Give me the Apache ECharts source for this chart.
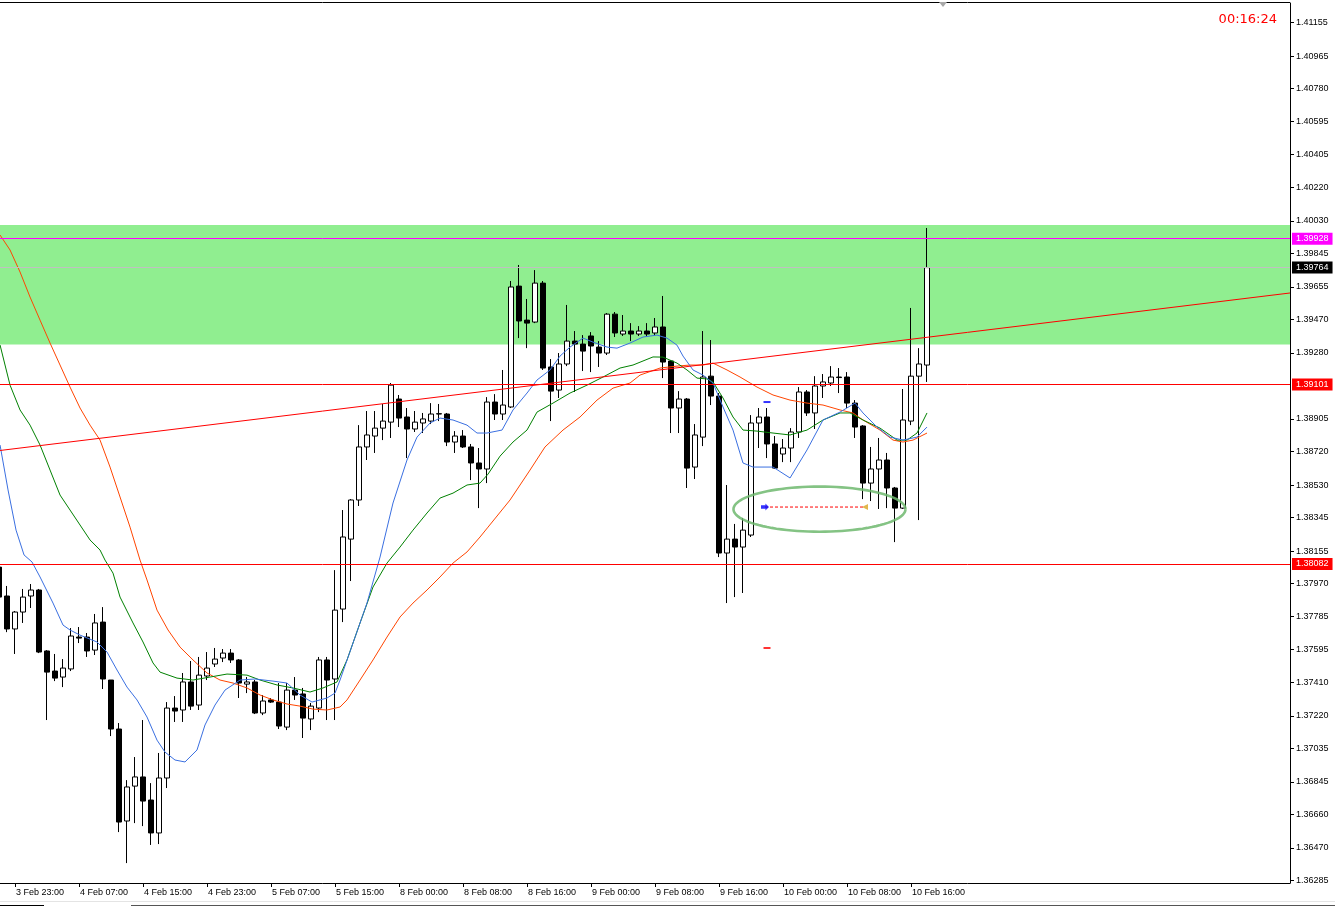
<!DOCTYPE html>
<html><head><meta charset="utf-8">
<script src="https://cdn.jsdelivr.net/npm/echarts/dist/echarts.min.js"></script>
<style>html,body{margin:0;padding:0;background:#fff}#c{width:1335px;height:907px}</style>
</head><body><div id="c"></div>
<script>
// ---------- data ----------
const priceTicks = [1.41155,1.40965,1.40780,1.40595,1.40405,1.40220,1.40030,1.39845,1.39655,1.39470,1.39280,1.38905,1.38720,1.38530,1.38345,1.38155,1.37970,1.37785,1.37595,1.37410,1.37220,1.37035,1.36845,1.36660,1.36470,1.36285];
const timeTickIdx = [2,10,18,26,34,42,50,58,66,74,82,90,98,106,114];
const timeTickLabels = ['3 Feb 23:00','4 Feb 07:00','4 Feb 15:00','4 Feb 23:00','5 Feb 07:00','5 Feb 15:00','8 Feb 00:00','8 Feb 08:00','8 Feb 16:00','9 Feb 00:00','9 Feb 08:00','9 Feb 16:00','10 Feb 00:00','10 Feb 08:00','10 Feb 16:00'];

const opens = [1.38064,1.37900,1.37713,1.37809,1.37900,1.37934,1.37588,1.37474,1.37440,1.37486,1.37667,1.37667,1.37593,1.37752,1.37423,1.37145,1.36623,1.36821,1.36873,1.36742,
1.36555,1.36867,1.37264,1.37253,1.37412,1.37281,1.37446,1.37514,1.37548,1.37576,1.37537,1.37400,1.37412,1.37236,1.37310,1.37298,1.37156,1.37366,1.37344,1.37202,
1.37264,1.37537,1.37429,1.37826,1.38223,1.38445,1.38746,1.38808,1.38853,1.38887,1.39018,1.38916,1.38848,1.38882,1.38893,1.38933,1.38933,1.38774,1.38808,1.38746,
1.38655,1.38621,1.39001,1.38933,1.38973,1.39659,1.39466,1.39455,1.39676,1.39200,1.39069,1.39217,1.39347,1.39330,1.39376,1.39313,1.39279,1.39500,1.39387,1.39404,
1.39387,1.39404,1.39393,1.39427,1.39234,1.38967,1.39018,1.38632,1.38802,1.39148,1.39035,1.38144,1.38223,1.38178,1.38246,1.38882,1.38916,1.38763,1.38706,1.38740,
1.38831,1.39058,1.38939,1.39092,1.39109,1.39143,1.39143,1.38995,1.38865,1.38541,1.38621,1.38672,1.38513,1.38399,1.38893,1.39148,1.39211];
const closes = [1.37894,1.37713,1.37809,1.37894,1.37934,1.37582,1.37468,1.37434,1.37491,1.37673,1.37661,1.37588,1.37747,1.37429,1.37145,1.36617,1.36816,1.36873,1.36736,1.36555,
1.36867,1.37264,1.37247,1.37412,1.37275,1.37451,1.37491,1.37542,1.37576,1.37537,1.37406,1.37412,1.37236,1.37304,1.37298,1.37162,1.37366,1.37338,1.37207,1.37275,
1.37537,1.37423,1.37820,1.38235,1.38445,1.38746,1.38814,1.38853,1.38893,1.39097,1.38910,1.38848,1.38887,1.38905,1.38933,1.38935,1.38774,1.38808,1.38746,1.38655,
1.38621,1.39001,1.38933,1.38984,1.39654,1.39461,1.39449,1.39676,1.39194,1.39063,1.39217,1.39347,1.39330,1.39290,1.39319,1.39279,1.39500,1.39393,1.39404,1.39387,
1.39404,1.39387,1.39427,1.39228,1.38967,1.39018,1.38626,1.38814,1.39143,1.39035,1.38144,1.38223,1.38178,1.38274,1.38882,1.38916,1.38763,1.38626,1.38740,1.38831,
1.39058,1.38939,1.39092,1.39115,1.39143,1.39140,1.38995,1.38859,1.38541,1.38621,1.38672,1.38513,1.38399,1.38899,1.39148,1.39217,1.39764];
const highs = [1.38076,1.37957,1.37815,1.37940,1.37968,1.37940,1.37593,1.37571,1.37542,1.37718,1.37724,1.37690,1.37798,1.37837,1.37423,1.37179,1.36855,1.36986,1.37196,1.36838,
1.37009,1.37298,1.37332,1.37463,1.37531,1.37554,1.37582,1.37605,1.37599,1.37599,1.37542,1.37440,1.37423,1.37338,1.37321,1.37406,1.37406,1.37440,1.37378,1.37293,
1.37554,1.37554,1.38047,1.38388,1.38450,1.38870,1.38950,1.38950,1.38990,1.39109,1.39041,1.38967,1.38950,1.38939,1.38995,1.38990,1.38939,1.38836,1.38842,1.38763,
1.38740,1.39029,1.39046,1.39183,1.39688,1.39779,1.39586,1.39750,1.39688,1.39245,1.39279,1.39552,1.39404,1.39381,1.39398,1.39347,1.39506,1.39512,1.39495,1.39449,
1.39432,1.39449,1.39478,1.39603,1.39239,1.39063,1.39024,1.38876,1.39404,1.39353,1.39052,1.38530,1.38309,1.38343,1.38927,1.38967,1.38967,1.38808,1.38791,1.38853,
1.39086,1.39069,1.39148,1.39160,1.39205,1.39194,1.39171,1.39012,1.38870,1.38746,1.38797,1.38712,1.38519,1.39075,1.39535,1.39307,1.39989];
const lows = [1.37877,1.37695,1.37571,1.37747,1.37832,1.37576,1.37196,1.37417,1.37383,1.37474,1.37633,1.37554,1.37565,1.37372,1.37105,1.36560,1.36384,1.36611,1.36594,1.36487,
1.36492,1.36810,1.37185,1.37185,1.37253,1.37253,1.37423,1.37497,1.37525,1.37520,1.37321,1.37349,1.37230,1.37224,1.37293,1.37145,1.37139,1.37310,1.37094,1.37139,
1.37241,1.37196,1.37196,1.37752,1.37985,1.38411,1.38672,1.38712,1.38785,1.38797,1.38859,1.38683,1.38831,1.38825,1.38876,1.38893,1.38751,1.38712,1.38740,1.38558,
1.38399,1.38541,1.38899,1.38899,1.38967,1.39364,1.39307,1.39449,1.39183,1.38893,1.39024,1.39205,1.39058,1.39177,1.39171,1.39200,1.39268,1.39370,1.39376,1.39347,
1.39376,1.39376,1.39381,1.39137,1.38825,1.38825,1.38513,1.38564,1.38751,1.38984,1.38121,1.37860,1.37894,1.37917,1.38235,1.38740,1.38683,1.38621,1.38660,1.38660,
1.38797,1.38922,1.38848,1.39024,1.39092,1.39052,1.38967,1.38797,1.38450,1.38439,1.38394,1.38399,1.38206,1.38394,1.38870,1.38331,1.39115];

// moving averages: [bar position, price]
const maFast = [[0.13,1.38757],[1.13,1.38502],[2.13,1.38274],[3.13,1.38133],[4.13,1.38093],[5.13,1.38008],[6.75,1.37860],[8,1.37735],[8.88,1.37707],[10.13,1.37678],
[12.25,1.37639],[13.5,1.37582],[14.75,1.37480],[16,1.37383],[17.25,1.37310],[18.5,1.37213],[19.75,1.37082],[20.75,1.37014],[22,1.36969],[23.25,1.36958],
[24.75,1.37026],[25.75,1.37168],[27,1.37281],[28.25,1.37366],[30.13,1.37423],[32,1.37429],[34.25,1.37417],[36,1.37406],[37.63,1.37338],[39.13,1.37298],
[41,1.37321],[42,1.37349],[42.63,1.37423],[44.25,1.37633],[46,1.37860],[47.63,1.38121],[49.25,1.38428],[51,1.38672],[52.25,1.38802],[53.88,1.38882],
[55.13,1.38910],[56.75,1.38899],[58.5,1.38870],[59.75,1.38825],[61,1.38825],[62.88,1.38842],[64.25,1.38956],[66,1.39052],[67.25,1.39126],[68.88,1.39183],
[70.13,1.39262],[71.38,1.39313],[73,1.39364],[74.25,1.39341],[76,1.39313],[77.25,1.39307],[78.88,1.39336],[80.5,1.39370],[82.25,1.39381],[83.5,1.39364],
[84.75,1.39324],[85.5,1.39262],[86.75,1.39183],[88,1.39154],[89.25,1.39109],[90.5,1.38973],[91.75,1.38842],[93,1.38655],[94.25,1.38632],[96.75,1.38632],
[98.88,1.38570],[101,1.38729],[103,1.38899],[105.13,1.38944],[107,1.38995],[108,1.38939],[109.75,1.38859],[111.38,1.38802],[113,1.38785],[114.75,1.38802],[116,1.38859]];
const maMid = [[0.13,1.39325],[1.38,1.39097],[2.63,1.38956],[3.88,1.38870],[5.13,1.38757],[6.38,1.38615],[7.63,1.38473],[8.88,1.38388],[10.13,1.38303],[11.38,1.38218],
[12.63,1.38161],[13.25,1.38104],[14.25,1.38030],[15.13,1.37894],[16.75,1.37747],[18,1.37639],[19.25,1.37520],[20.13,1.37468],[22.25,1.37434],[24.25,1.37423],
[26.38,1.37440],[28.5,1.37457],[31,1.37451],[32.63,1.37423],[34.75,1.37395],[36.75,1.37378],[38.88,1.37355],[40.5,1.37378],[42.25,1.37412],[43.5,1.37537],
[45.13,1.37747],[46.75,1.37951],[48.5,1.38087],[50.13,1.38178],[51.75,1.38274],[53.5,1.38371],[55.13,1.38456],[56.75,1.38484],[58.5,1.38530],[60.13,1.38541],
[61.13,1.38592],[62.63,1.38694],[64.25,1.38774],[66,1.38842],[67.25,1.38944],[69.25,1.38995],[71.38,1.39052],[73.5,1.39097],[75.5,1.39143],[77.63,1.39194],
[79.25,1.39211],[81.75,1.39257],[83,1.39256],[84.75,1.39222],[86,1.39183],[87.25,1.39137],[88.5,1.39132],[89.25,1.39115],[90.5,1.39024],[91.75,1.38916],
[93,1.38842],[94.75,1.38836],[96.75,1.38825],[98.88,1.38814],[101,1.38842],[103,1.38899],[105.13,1.38939],[106.38,1.38939],[108,1.38899],[110.13,1.38853],
[112.25,1.38785],[113.5,1.38785],[114.75,1.38825],[116,1.38939]];
const maSlow = [[0.13,1.39949],[1.38,1.39864],[2.63,1.39739],[3.88,1.39597],[5.13,1.39466],[6.38,1.39336],[7.63,1.39211],[8.88,1.39086],[10.13,1.38967],[11.38,1.38870],
[12.63,1.38785],[13.88,1.38632],[15.13,1.38462],[16.38,1.38291],[17.63,1.38104],[18.5,1.37991],[19.75,1.37820],[21.13,1.37707],[22.63,1.37610],[24.25,1.37537],
[26,1.37463],[27.63,1.37423],[29.25,1.37406],[31,1.37378],[32.63,1.37338],[34.25,1.37310],[36,1.37287],[37.63,1.37275],[39.25,1.37258],[41,1.37253],
[42.63,1.37270],[43.5,1.37310],[45.13,1.37423],[46.75,1.37537],[48.5,1.37667],[50.13,1.37781],[51.75,1.37860],[53.5,1.37934],[55.13,1.38008],[56.75,1.38087],
[58.5,1.38150],[60.13,1.38235],[61.13,1.38291],[63.88,1.38445],[66.38,1.38615],[68.25,1.38746],[70.5,1.38842],[72.63,1.38916],[74.75,1.39012],[76.75,1.39080],
[78.88,1.39109],[80.13,1.39154],[82.63,1.39194],[84.75,1.39205],[86.38,1.39211],[88,1.39211],[89.25,1.39222],[91,1.39183],[92.63,1.39143],[94.75,1.39086],
[96.75,1.39041],[98.88,1.39012],[101,1.38995],[103,1.38984],[105.13,1.38956],[106.75,1.38939],[108,1.38899],[110.13,1.38842],[111.75,1.38785],[113,1.38774],
[114.25,1.38785],[116,1.38825]];

// objects
const zoneTop = 1.40006, zoneBottom = 1.39327;
const trendStart = [0.125, 1.38726], trendEnd = [161.375, 1.39620];
const levelHigh = 1.39101, levelLow = 1.38082;
const magentaLevel = 1.39928, bidPrice = 1.39764;
const tradeOpen = [95.75, 1.38405], tradeClose = [108.25, 1.38405];
const dashBlue = [96, 1.39001], dashRed = [96, 1.37605];
const ellipseBox = [91.81, 113.31, 1.38265, 1.38521];
const timerText = '00:16:24';

// ---------- chart ----------
const xMin = 0.125, xMax = 161.375, yMin = 1.36271, yMax = 1.41266;
const FONT = '"Liberation Sans", Arial, sans-serif';
const candleData = opens.map((o, i) => [i, o, closes[i], lows[i], highs[i]]);

const chart = echarts.init(document.getElementById('c'));
function lvl(v, line, bg) {
  return {yAxis: v, lineStyle: {color: line, width: 1, type: 'solid'},
    label: {show: true, position: 'end', distance: 2, formatter: () => v.toFixed(5),
      color: '#fff', backgroundColor: bg, padding: [2, 4, 1, 4], fontSize: 9, fontFamily: FONT}};
}
chart.setOption({
  animation: false,
  backgroundColor: '#fff',
  grid: {left: 0, right: 45, top: 3, bottom: 24, show: false},
  xAxis: {type: 'value', min: xMin, max: xMax,
    axisLine: {show: true, lineStyle: {color: '#000', width: 1}},
    axisTick: {show: true, length: 4, customValues: timeTickIdx, lineStyle: {color: '#000'}},
    axisLabel: {show: true, customValues: timeTickIdx, align: 'left', margin: 5, padding: [0, 0, 0, 1],
      formatter: v => timeTickLabels[timeTickIdx.indexOf(v)] || '', color: '#000', fontSize: 9, fontFamily: FONT},
    splitLine: {show: false}},
  yAxis: {type: 'value', position: 'right', min: yMin, max: yMax, scale: true,
    axisLine: {show: true, lineStyle: {color: '#000', width: 1}},
    axisTick: {show: true, length: 4, customValues: priceTicks, lineStyle: {color: '#000'}},
    axisLabel: {show: true, customValues: priceTicks, margin: 6, formatter: v => v.toFixed(5),
      color: '#000', fontSize: 9, fontFamily: FONT},
    splitLine: {show: false}},
  graphic: [
    {type: 'line', shape: {x1: 0, y1: 2.5, x2: 1290, y2: 2.5}, style: {stroke: '#000', lineWidth: 1}, silent: true},
    {type: 'polygon', shape: {points: [[939, 2], [947, 2], [943, 7]]}, style: {fill: '#a8a8a8'}, silent: true},
    {type: 'text', right: 58, top: 13, style: {text: timerText, fill: '#ff0000', font: '13px "DejaVu Sans", sans-serif'}, silent: true},
    {type: 'line', shape: {x1: 0, y1: 901.5, x2: 1335, y2: 901.5}, style: {stroke: '#e4e4e4', lineWidth: 1}, silent: true},
    {type: 'line', shape: {x1: 0, y1: 905.5, x2: 44, y2: 905.5}, style: {stroke: '#000', lineWidth: 1}, silent: true},
    {type: 'line', shape: {x1: 131, y1: 905.5, x2: 1335, y2: 905.5}, style: {stroke: '#555', lineWidth: 1}, silent: true}
  ],
  series: [
    {type: 'candlestick', data: candleData, encode: {x: 0, y: [1, 2, 3, 4]}, barWidth: 5, z: 2, silent: true,
      itemStyle: {color: '#fff', color0: '#000', borderColor: '#000', borderColor0: '#000', borderColorDoji: '#000', borderWidth: 1}},
    {type: 'line', data: maSlow, showSymbol: false, silent: true, z: 3, lineStyle: {color: '#ff4500', width: 1}},
    {type: 'line', data: maMid, showSymbol: false, silent: true, z: 3, lineStyle: {color: '#008000', width: 1}},
    {type: 'line', data: maFast, showSymbol: false, silent: true, z: 3, lineStyle: {color: '#3a6fe0', width: 1}},
    {type: 'line', data: [tradeOpen, tradeClose], showSymbol: false, silent: true, z: 4,
      lineStyle: {color: '#ff0000', width: 1, type: [3, 2]},
      markArea: {silent: true, itemStyle: {color: '#90ee90'},
        data: [[{xAxis: xMin, yAxis: zoneTop}, {xAxis: xMax, yAxis: zoneBottom}]]},
      markLine: {silent: true, symbol: ['none', 'none'], animation: false, precision: 5,
        label: {show: false},
        data: [
          lvl(magentaLevel, '#ff00ff', '#ff00ff'),
          lvl(bidPrice, '#c0c0c0', '#000000'),
          lvl(levelHigh, '#ff0000', '#ff0000'),
          lvl(levelLow, '#ff0000', '#ff0000'),
          [{coord: trendStart, lineStyle: {color: '#ff0000', width: 1, type: 'solid'}, label: {show: false}}, {coord: trendEnd}]
        ]}},
    {type: 'scatter', silent: true, z: 5,
      data: [
        {value: dashBlue, symbol: 'rect', symbolSize: [7, 2], itemStyle: {color: '#0000ff'}},
        {value: dashRed, symbol: 'rect', symbolSize: [7, 2], itemStyle: {color: '#ff0000'}},
        {value: tradeOpen, symbol: 'path://M0,2 L5,2 L5,0 L9,4 L5,8 L5,6 L0,6 Z', symbolSize: [8, 7], itemStyle: {color: '#0000ff'}},
        {value: tradeClose, symbol: 'triangle', symbolRotate: 90, symbolSize: [6, 6], itemStyle: {color: '#daa520'}}
      ]},
    {type: 'custom', silent: true, z: 5, data: [ellipseBox],
      encode: {x: [0, 1], y: [2, 3]},
      renderItem: function (params, api) {
        const p0 = api.coord([api.value(0), api.value(3)]);
        const p1 = api.coord([api.value(1), api.value(2)]);
        const cx = (p0[0] + p1[0]) / 2, cy = (p0[1] + p1[1]) / 2;
        const rx = Math.abs(p1[0] - p0[0]) / 2, ry = Math.abs(p1[1] - p0[1]) / 2;
        const pts = [];
        for (let k = 0; k <= 96; k++) { const a = k / 96 * 2 * Math.PI; pts.push([cx + rx * Math.cos(a), cy + ry * Math.sin(a)]); }
        return {type: 'polyline', shape: {points: pts}, style: {stroke: 'rgba(110,185,110,0.85)', lineWidth: 2.6, fill: null}};
      }}
  ]
});
</script></body></html>
